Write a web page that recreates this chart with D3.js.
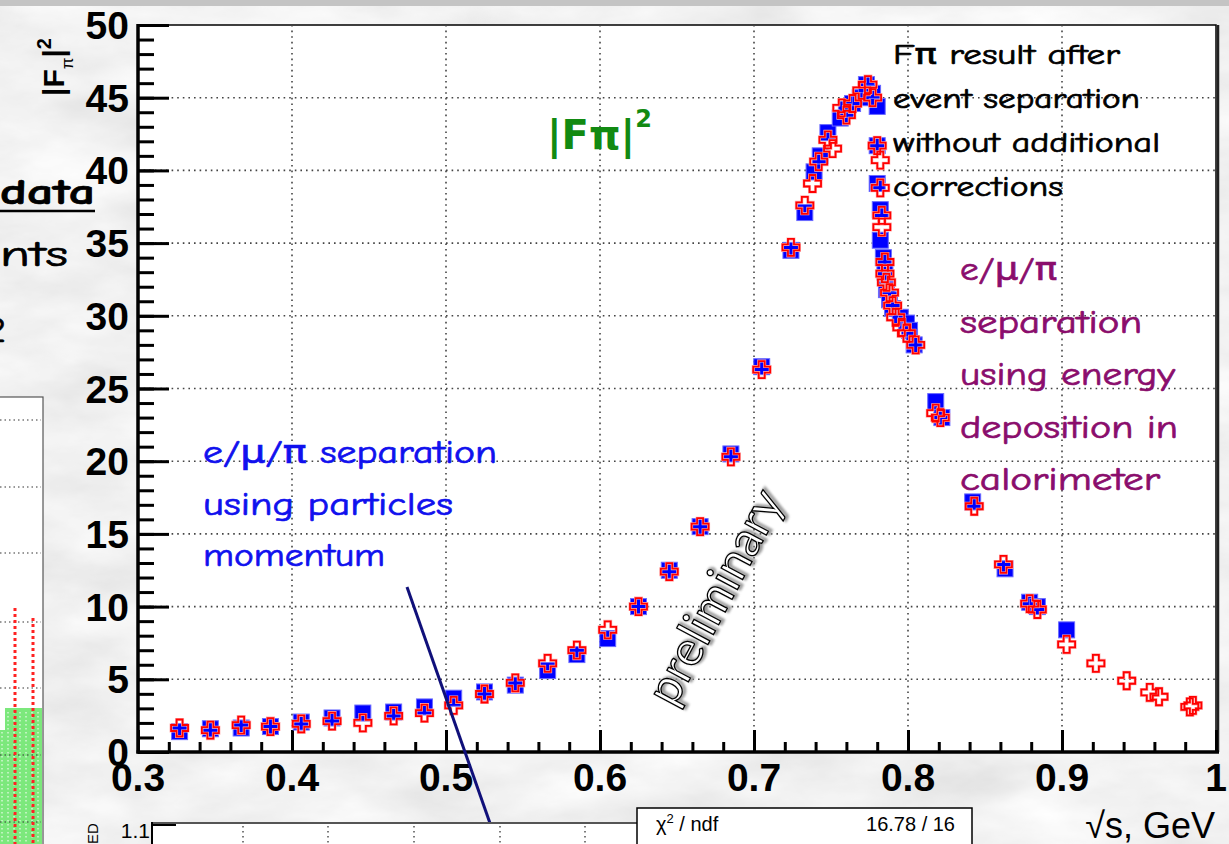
<!DOCTYPE html>
<html>
<head>
<meta charset="utf-8">
<script src="https://cdn.jsdelivr.net/npm/d3@7"></script>
<style>
  html, body { margin: 0; padding: 0; background: #d9d9d9; overflow: hidden; }
  svg { display: block; }
</style>
</head>
<body>
<svg id="chart" width="1229" height="844"></svg>
<script>
// |F_pi|^2 versus sqrt(s): two event-separation methods
const xTicks = [0.3, 0.4, 0.5, 0.6, 0.7, 0.8, 0.9, 1.0];
const xTickLabels = ["0.3", "0.4", "0.5", "0.6", "0.7", "0.8", "0.9", "1"];
const yTicks = [0, 5, 10, 15, 20, 25, 30, 35, 40, 45, 50];
const yTickLabels = ["0", "5", "10", "15", "20", "25", "30", "35", "40", "45", "50"];

// separation by energy deposition (filled squares)
const energyS = [0.327,0.347,0.367,0.386,0.406,0.426,0.446,0.466,0.486,0.505,0.525,0.545,0.566,0.585,0.605,0.625,0.645,0.665,0.685,0.705,0.724,0.733,0.739,0.743,0.748,0.756,0.760,0.764,0.769,0.773,0.777,0.780,0.780,0.780,0.782,0.782,0.784,0.785,0.786,0.788,0.790,0.795,0.799,0.801,0.804,0.818,0.822,0.842,0.863,0.879,0.884,0.903];
const energyF = [1.4,1.6,1.65,1.75,2.06,2.34,2.68,2.75,3.1,3.7,4.13,4.6,5.6,6.7,7.8,10.0,12.5,15.5,20.5,26.5,34.5,37.1,39.9,41.0,42.6,43.6,44.2,44.6,45.0,45.9,45.3,44.4,41.7,39.1,37.3,35.2,34.0,33.0,31.8,31.1,30.5,29.9,29.5,29.0,28.0,24.1,23.0,17.2,12.6,10.3,10.0,8.4];

// separation by particle momentum (open crosses)
const momentumS = [0.327,0.347,0.367,0.386,0.406,0.426,0.446,0.466,0.486,0.505,0.525,0.545,0.566,0.585,0.605,0.625,0.645,0.665,0.685,0.705,0.724,0.733,0.738,0.742,0.748,0.751,0.757,0.760,0.764,0.770,0.774,0.777,0.780,0.782,0.782,0.783,0.783,0.785,0.785,0.786,0.788,0.790,0.792,0.796,0.799,0.805,0.818,0.821,0.843,0.862,0.879,0.884,0.903,0.922,0.942,0.957,0.963,0.983,0.985];
const momentumF = [1.65,1.5,1.85,1.75,1.93,2.13,2.0,2.48,2.68,3.2,3.99,4.75,6.1,7.0,8.4,10.0,12.4,15.5,20.3,26.3,34.7,37.6,39.1,40.6,42.1,41.5,44.3,43.8,44.6,45.5,45.9,45.0,41.7,40.7,38.8,36.9,36.1,33.7,32.9,32.3,31.6,30.7,29.9,29.2,28.8,28.0,23.3,23.0,16.9,12.9,10.2,9.8,7.4,6.1,4.9,4.1,3.8,3.1,3.2];

const energyPts = energyS.map((s, i) => ({ s, f: energyF[i] }));
const momentumPts = momentumS.map((s, i) => ({ s, f: momentumF[i] }));

const svg = d3.select("#chart");
const W = 1229, H = 844;

// ---------- background texture ----------
const defs = svg.append("defs");
const marble = defs.append("filter").attr("id", "marble")
  .attr("x", 0).attr("y", 0).attr("width", "100%").attr("height", "100%");
marble.append("feTurbulence").attr("type", "fractalNoise")
  .attr("baseFrequency", "0.008 0.02").attr("numOctaves", 5).attr("seed", 7);
marble.append("feColorMatrix").attr("type", "matrix")
  .attr("values", "0.16 0.16 0.16 0 0.64  0.16 0.16 0.16 0 0.64  0.16 0.16 0.16 0 0.64  0 0 0 0 1");
svg.append("rect").attr("width", W).attr("height", H).attr("fill", "#d6d6d6");
svg.append("rect").attr("width", W).attr("height", H).attr("filter", "url(#marble)");
svg.append("rect").attr("width", W).attr("height", 6).attr("fill", "#c4c4c4");

const shadow = defs.append("filter").attr("id", "soft");
shadow.append("feGaussianBlur").attr("stdDeviation", 1.2);

// ---------- neighbouring panel on the left ----------
const leftPanel = svg.append("g");
leftPanel.append("rect").attr("x", -2).attr("y", 397).attr("width", 45).attr("height", 460)
  .attr("fill", "#fff").attr("stroke", "#555").attr("stroke-width", 1.2);
leftPanel.append("rect").attr("x", 0).attr("y", 730).attr("width", 6).attr("height", 120).attr("fill", "#7ce87c");
leftPanel.append("rect").attr("x", 5).attr("y", 708).attr("width", 37).attr("height", 140).attr("fill", "#7ce87c");
d3.range(2, 43, 6).forEach(x => {
  leftPanel.append("line").attr("x1", x).attr("x2", x).attr("y1", 712).attr("y2", 844)
    .attr("stroke", "#fff").attr("stroke-width", 1).attr("stroke-dasharray", "1.5,2.5");
});
[420, 487, 553, 622, 688, 755, 822].forEach(y => {
  leftPanel.append("line").attr("x1", 0).attr("x2", 41).attr("y1", y).attr("y2", y)
    .attr("stroke", "#333").attr("stroke-width", 1.2).attr("stroke-dasharray", "1.5,3");
});
[[15, 608], [33, 618]].forEach(([x, y]) => {
  leftPanel.append("line").attr("x1", x).attr("x2", x).attr("y1", y).attr("y2", 844)
    .attr("stroke", "#f22").attr("stroke-width", 3).attr("stroke-dasharray", "3,3");
});

// slide text partly hidden at the left edge
const slideFont = "'Comic Sans MS','Comic Neue','DejaVu Sans',sans-serif";
function slideText(g, str, x0, y0, size, width, color, weight) {
  return g.append("text").attr("x", x0).attr("y", y0)
    .attr("font-family", slideFont).attr("font-size", size)
    .attr("font-weight", weight || "normal")
    .attr("fill", color).attr("stroke", color).attr("stroke-width", 0.7)
    .attr("textLength", width).attr("lengthAdjust", "spacingAndGlyphs")
    .text(str);
}
slideText(svg, "data", 0, 204, 36, 95, "#000", "bold");
svg.append("line").attr("x1", 0).attr("x2", 95).attr("y1", 211).attr("y2", 211)
  .attr("stroke", "#000").attr("stroke-width", 2.5);
slideText(svg, "nts", 0, 266, 36, 68, "#000");
slideText(svg, "2", -14, 342, 36, 20, "#000");

// ---------- main frame ----------
const x = d3.scaleLinear().domain([0.3, 1.0]).range([138, 1216]);
const y = d3.scaleLinear().domain([0, 50]).range([752, 25]);

svg.append("rect").attr("x", x(0.3)).attr("y", y(50))
  .attr("width", x(1.0) - x(0.3)).attr("height", y(0) - y(50))
  .attr("fill", "#fff").attr("stroke", "#000").attr("stroke-width", 1.5);
svg.append("line").attr("x1", x(1.0) + 2).attr("x2", x(1.0) + 2).attr("y1", y(50)).attr("y2", y(0))
  .attr("stroke", "#222").attr("stroke-width", 2.5);

// grid
const grid = svg.append("g");
yTicks.filter(v => v > 0 && v < 50).forEach(v => {
  grid.append("line").attr("x1", x(0.3)).attr("x2", x(1.0)).attr("y1", y(v)).attr("y2", y(v))
    .attr("stroke", "#444").attr("stroke-width", 1.6).attr("stroke-dasharray", "1.6,4");
});
xTicks.filter(v => v > 0.3 && v < 1.0).forEach(v => {
  grid.append("line").attr("x1", x(v)).attr("x2", x(v)).attr("y1", y(50)).attr("y2", y(0))
    .attr("stroke", "#444").attr("stroke-width", 1.6).attr("stroke-dasharray", "1.6,4");
});

// axes with inward ticks
const axisFont = "'Liberation Sans',Arial,Helvetica,sans-serif";
const yMinor = d3.axisRight(y).tickValues(d3.range(0, 51, 1)).tickSize(16).tickFormat("");
const yMajor = d3.axisRight(y).tickValues(yTicks).tickSize(31).tickFormat("");
[yMinor, yMajor].forEach(ax => {
  const g = svg.append("g").attr("transform", `translate(${x(0.3)},0)`).call(ax);
  g.select(".domain").remove();
  g.selectAll("line").attr("stroke", "#000").attr("stroke-width", 3);
});
const xMinor = d3.axisTop(x).tickValues(d3.range(0, 36).map(i => 0.3 + i * 0.02)).tickSize(10).tickFormat("");
const xMajor = d3.axisTop(x).tickValues(xTicks).tickSize(22).tickFormat("");
[xMinor, xMajor].forEach(ax => {
  const g = svg.append("g").attr("transform", `translate(0,${y(0)})`).call(ax);
  g.select(".domain").remove();
  g.selectAll("line").attr("stroke", "#000").attr("stroke-width", 3);
});
svg.append("line").attr("x1", x(0.3)).attr("x2", x(0.3)).attr("y1", y(50) - 1).attr("y2", y(0) + 1.5)
  .attr("stroke", "#000").attr("stroke-width", 3.5);
svg.append("line").attr("x1", x(0.3) - 1.5).attr("x2", x(1.0) + 3).attr("y1", y(0)).attr("y2", y(0))
  .attr("stroke", "#000").attr("stroke-width", 3.5);

// tick labels
svg.append("g").selectAll("text").data(yTicks).join("text")
  .attr("x", 129).attr("y", d => y(d) + 14)
  .attr("text-anchor", "end").attr("font-family", axisFont).attr("font-weight", "bold")
  .attr("font-size", 39).attr("fill", "#000")
  .text((d, i) => yTickLabels[i]);
svg.append("g").selectAll("text").data(xTicks).join("text")
  .attr("x", d => x(d)).attr("y", 791)
  .attr("text-anchor", "middle").attr("font-family", axisFont).attr("font-weight", "bold")
  .attr("font-size", 39).attr("fill", "#000")
  .text((d, i) => xTickLabels[i]);

// axis titles
svg.append("text").attr("transform", "translate(64,96) rotate(-90)")
  .attr("font-family", axisFont).attr("font-weight", "bold").attr("font-size", 30).attr("fill", "#000")
  .call(t => {
    t.append("tspan").text("|F");
    t.append("tspan").attr("font-size", 17).attr("font-weight", "normal").attr("dy", 9).text("π");
    t.append("tspan").attr("dy", -9).text("|");
    t.append("tspan").attr("font-size", 20).attr("dy", -13).text("2");
  });
svg.append("text").attr("x", 1215).attr("y", 838).attr("text-anchor", "end")
  .attr("font-family", axisFont).attr("font-size", 36).attr("fill", "#000").text("√s, GeV");

// ---------- text annotations inside the frame ----------
svg.append("text").attr("x", 547).attr("y", 149)
  .attr("font-family", "'DejaVu Sans',sans-serif").attr("font-weight", "bold").attr("font-size", 40)
  .attr("fill", "#128a12")
  .call(t => {
    t.append("tspan").text("|Fπ|");
    t.append("tspan").attr("font-size", 24).attr("dy", -22).text("2");
  });

const blueLines = ["e/μ/π separation", "using particles", "momentum"];
const blueWidths = [294, 250, 182];
blueLines.forEach((s, i) => slideText(svg, s, 203, 463 + i * 51.5, 32, blueWidths[i], "#1010ee"));

const blackLines = ["Fπ result after", "event separation", "without additional", "corrections"];
const blackWidths = [227, 247, 267, 170];
blackLines.forEach((s, i) => slideText(svg, s, 893, 64 + i * 44, 28, blackWidths[i], "#000"));

const purpleLines = ["e/μ/π", "separation", "using energy", "deposition in", "calorimeter"];
const purpleWidths = [97, 182, 215, 218, 200];
purpleLines.forEach((s, i) => slideText(svg, s, 960, 280 + i * 52.5, 32, purpleWidths[i], "#8a0d6c"));

// outlined "preliminary" stamp
const stamp = svg.append("g").attr("transform", "translate(717,598) rotate(-62)");
stamp.append("text").attr("x", 2).attr("y", 16).attr("text-anchor", "middle")
  .attr("font-family", "Lato,'Open Sans',sans-serif").attr("font-size", 48)
  .attr("fill", "none").attr("stroke", "#999").attr("stroke-width", 3).attr("filter", "url(#soft)")
  .text("preliminary");
stamp.append("text").attr("x", 0).attr("y", 14).attr("text-anchor", "middle")
  .attr("font-family", "Lato,'Open Sans',sans-serif").attr("font-size", 48)
  .attr("fill", "#fff").attr("stroke", "#000").attr("stroke-width", 1.3)
  .text("preliminary");

// ---------- data markers ----------
const sq = 16;
svg.append("g").selectAll("rect").data(energyPts).join("rect")
  .attr("x", d => x(d.s) - sq / 2).attr("y", d => y(d.f) - sq / 2)
  .attr("width", sq).attr("height", sq)
  .attr("fill", "#0000ff").attr("stroke", "#6a6aff").attr("stroke-width", 1);

const h = 8.5, a = 3;
const crossPath = `M${-a},${-h}L${a},${-h}L${a},${-a}L${h},${-a}L${h},${a}L${a},${a}L${a},${h}L${-a},${h}L${-a},${a}L${-h},${a}L${-h},${-a}L${-a},${-a}Z`;
const crosses = svg.append("g");
crosses.selectAll("path.halo").data(momentumPts).join("path").attr("class", "halo")
  .attr("d", crossPath).attr("transform", d => `translate(${x(d.s)},${y(d.f)})`)
  .attr("fill", "none").attr("stroke", "#ffb0b0").attr("stroke-width", 3);
crosses.selectAll("path.mark").data(momentumPts).join("path").attr("class", "mark")
  .attr("d", crossPath).attr("transform", d => `translate(${x(d.s)},${y(d.f)})`)
  .attr("fill", "none").attr("stroke", "#ff0000").attr("stroke-width", 1.8);

// ---------- pointer line ----------
svg.append("line").attr("x1", 407).attr("y1", 587).attr("x2", 498).attr("y2", 846)
  .attr("stroke", "#10107a").attr("stroke-width", 3);

// ---------- neighbouring panel below ----------
const low = svg.append("g");
low.append("line").attr("x1", 152).attr("x2", 640).attr("y1", 823).attr("y2", 823)
  .attr("stroke", "#555").attr("stroke-width", 2);
low.append("line").attr("x1", 152).attr("x2", 152).attr("y1", 822).attr("y2", 844)
  .attr("stroke", "#000").attr("stroke-width", 2);
low.append("rect").attr("x", 153).attr("y", 824).attr("width", 484).attr("height", 22).attr("fill", "#fff");
low.append("line").attr("x1", 152).attr("x2", 176).attr("y1", 825).attr("y2", 825)
  .attr("stroke", "#000").attr("stroke-width", 2);
[243, 328, 414, 500, 585].forEach(xx => {
  low.append("line").attr("x1", xx).attr("x2", xx).attr("y1", 826).attr("y2", 844)
    .attr("stroke", "#444").attr("stroke-width", 1.4).attr("stroke-dasharray", "1.5,3.5");
});
low.append("text").attr("x", 150).attr("y", 838).attr("text-anchor", "end")
  .attr("font-family", axisFont).attr("font-size", 21).attr("fill", "#000").text("1.1");
low.append("text").attr("transform", "translate(98,844) rotate(-90)")
  .attr("font-family", axisFont).attr("font-size", 15).attr("fill", "#000").text("ED");

const statBox = svg.append("g");
statBox.append("rect").attr("x", 637).attr("y", 808).attr("width", 335).attr("height", 50)
  .attr("fill", "#fff").attr("stroke", "#000").attr("stroke-width", 1.5);
statBox.append("text").attr("x", 656).attr("y", 831)
  .attr("font-family", axisFont).attr("font-size", 20).attr("fill", "#000")
  .call(t => {
    t.append("tspan").text("χ");
    t.append("tspan").attr("font-size", 13).attr("dy", -8).text("2");
    t.append("tspan").attr("dy", 8).text(" / ndf");
  });
statBox.append("text").attr("x", 955).attr("y", 831).attr("text-anchor", "end")
  .attr("font-family", axisFont).attr("font-size", 20).attr("fill", "#000").text("16.78 / 16");
</script>
</body>
</html>
